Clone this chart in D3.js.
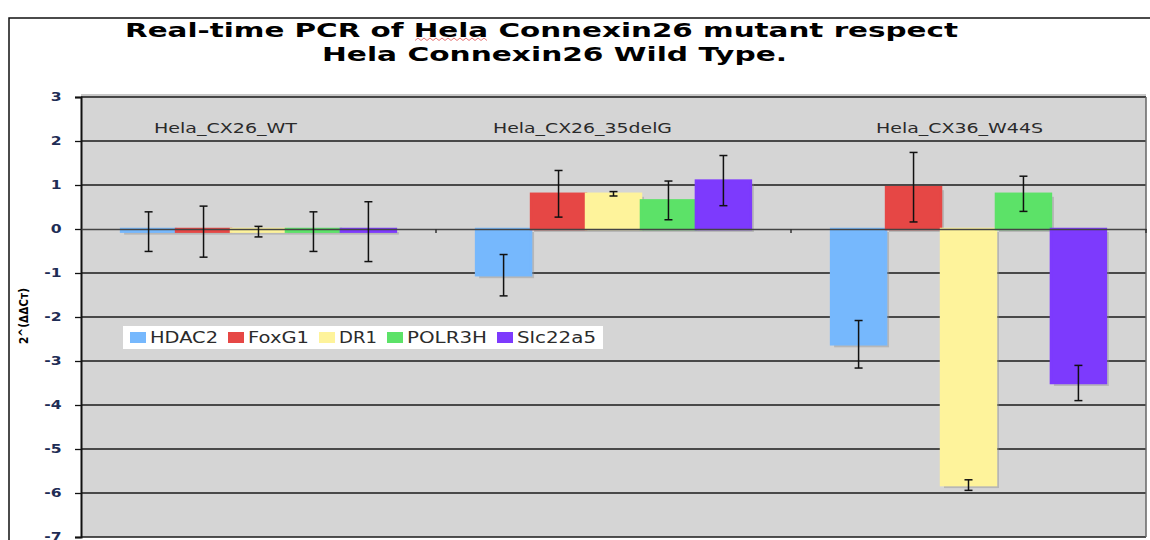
<!DOCTYPE html>
<html>
<head>
<meta charset="utf-8">
<style>
body { margin: 0; background: #fff; }
svg text { font-family: "DejaVu Sans", Verdana, sans-serif; }
</style>
</head>
<body>
<svg width="1150" height="540"></svg>
<script src="https://cdn.jsdelivr.net/npm/d3@7/dist/d3.min.js"></script>
<script>

// data
var groups = ["Hela_CX26_WT", "Hela_CX26_35delG", "Hela_CX36_W44S"];
var genes = ["HDAC2", "FoxG1", "DR1", "POLR3H", "Slc22a5"];
var colors = ["#76b8fd", "#e64745", "#fef39b", "#5ce268", "#7d3afd"];
var wtValues     = [-0.06, -0.06, -0.06, -0.06, -0.06];
var delGValues   = [-1.05, 0.80, 0.80, 0.65, 1.10];
var w44sValues   = [-2.62, 0.95, -5.82, 0.80, -3.50];
var wtErr        = [0.45, 0.58, 0.12, 0.45, 0.68];
var delGErr      = [0.47, 0.53, 0.05, 0.44, 0.57];
var w44sErr      = [0.54, 0.79, 0.12, 0.40, 0.40];
var yTicks = [3, 2, 1, 0, -1, -2, -3, -4, -5, -6, -7];

var values = [wtValues, delGValues, w44sValues];
var errors = [wtErr, delGErr, w44sErr];
var rows = [];
groups.forEach(function(g, i) {
  genes.forEach(function(k, j) {
    rows.push({group: g, gene: k, value: values[i][j], err: errors[i][j], color: colors[j]});
  });
});

var svg = d3.select("svg");
var plotLeft = 81, plotRight = 1146, plotTop = 97, plotBottom = 537;

var y = d3.scaleLinear().domain([-7, 3]).range([plotBottom, plotTop]);
var x0 = d3.scaleBand().domain(groups).range([plotLeft, plotRight]).padding(0);
var x1 = d3.scaleBand().domain(genes).range([0, x0.bandwidth()]).paddingInner(0).paddingOuter(0.73);
var color = d3.scaleOrdinal().domain(genes).range(colors);

// outer frame
svg.append("rect")
  .attr("x", 9).attr("y", 18).attr("width", 1160).attr("height", 560)
  .attr("fill", "none").attr("stroke", "#111").attr("stroke-width", 1.5);

// title
svg.append("text")
  .attr("x", 125).attr("y", 37)
  .attr("font-size", 20).attr("font-weight", "bold")
  .attr("textLength", 833).attr("lengthAdjust", "spacingAndGlyphs")
  .text("Real-time PCR of Hela Connexin26 mutant respect");
svg.append("text")
  .attr("x", 322).attr("y", 61)
  .attr("font-size", 20).attr("font-weight", "bold")
  .attr("textLength", 465).attr("lengthAdjust", "spacingAndGlyphs")
  .text("Hela Connexin26 Wild Type.");
// spell-check squiggle under "Hela"
var sq = d3.range(415, 489, 3).map(function(px, i) { return [px, i % 2 ? 38 : 40.5]; });
svg.append("path").attr("d", d3.line()(sq))
  .attr("fill", "none").attr("stroke", "#e05050").attr("stroke-width", 0.8);

// plot background
svg.append("rect")
  .attr("x", plotLeft).attr("y", plotTop - 3).attr("width", plotRight - plotLeft).attr("height", 3)
  .attr("fill", "#c8c8c8");
svg.append("rect")
  .attr("x", plotLeft).attr("y", plotTop).attr("width", plotRight - plotLeft).attr("height", plotBottom - plotTop)
  .attr("fill", "#d5d5d5");

// grid lines
svg.append("g").selectAll("line")
  .data(yTicks.filter(function(t) { return t !== 0; }))
  .enter().append("line")
  .attr("x1", plotLeft).attr("x2", plotRight)
  .attr("y1", function(d) { return y(d); }).attr("y2", function(d) { return y(d); })
  .attr("stroke", "#1a1a1a").attr("stroke-width", 1.3);

// y axis
var yAxis = svg.append("g")
  .attr("transform", "translate(" + plotLeft + ",0)")
  .call(d3.axisLeft(y).tickValues(yTicks).tickSize(6).tickPadding(13)
    .tickFormat(function(d) { return String(d); }));
yAxis.select(".domain").attr("stroke", "#111").attr("stroke-width", 2);
yAxis.selectAll(".tick line").attr("stroke", "#111").attr("stroke-width", 1.3);
yAxis.selectAll(".tick text")
  .attr("font-size", 12).attr("font-weight", "bold").attr("fill", "#1e2d55")
  .attr("font-family", "DejaVu Sans, sans-serif")
  .attr("transform", "scale(1.3,1)").attr("x", -15);

// y label
svg.append("text")
  .attr("transform", "translate(28,316) rotate(-90)")
  .attr("text-anchor", "middle")
  .attr("font-size", 12).attr("font-weight", "bold")
  .attr("textLength", 56).attr("lengthAdjust", "spacingAndGlyphs")
  .text("2^(ΔΔCт)");

// right border
svg.append("line")
  .attr("x1", plotRight).attr("x2", plotRight).attr("y1", plotTop).attr("y2", plotBottom)
  .attr("stroke", "#666").attr("stroke-width", 1.5);

// bars
var bars = svg.append("g").selectAll("g")
  .data(rows).enter().append("g");

bars.append("rect")
  .attr("x", function(d) { return x0(d.group) + x1(d.gene) + 3; })
  .attr("y", function(d) { return y(Math.max(0, d.value)) + 3; })
  .attr("width", x1.bandwidth())
  .attr("height", function(d) { return Math.abs(y(d.value) - y(0)); })
  .attr("fill", "#8a8a8a").attr("opacity", 0.4);

bars.append("rect")
  .attr("x", function(d) { return x0(d.group) + x1(d.gene); })
  .attr("y", function(d) { return y(Math.max(0, d.value)); })
  .attr("width", x1.bandwidth())
  .attr("height", function(d) { return Math.abs(y(d.value) - y(0)); })
  .attr("fill", function(d) { return color(d.gene); })
  .attr("stroke", function(d) { return color(d.gene); })
  .attr("stroke-width", 2.5);

// zero axis
var xAxis = svg.append("g")
  .attr("transform", "translate(0," + y(0) + ")")
  .call(d3.axisBottom(x0).tickSize(0).tickFormat(""));
xAxis.select(".domain").attr("stroke", "#444").attr("stroke-width", 1.5);
svg.append("g").selectAll("line")
  .data(groups.slice(1).concat(["end"]))
  .enter().append("line")
  .attr("x1", function(d) { return d === "end" ? plotRight : x0(d); })
  .attr("x2", function(d) { return d === "end" ? plotRight : x0(d); })
  .attr("y1", y(0)).attr("y2", y(0) + 4)
  .attr("stroke", "#333").attr("stroke-width", 1.5);

// error bars
var cap = 4;
var eb = svg.append("g").selectAll("g")
  .data(rows).enter().append("g")
  .attr("stroke", "#111").attr("stroke-width", 1.5);
eb.append("line")
  .attr("x1", function(d) { return x0(d.group) + x1(d.gene) + x1.bandwidth() / 2; })
  .attr("x2", function(d) { return x0(d.group) + x1(d.gene) + x1.bandwidth() / 2; })
  .attr("y1", function(d) { return y(d.value + d.err); })
  .attr("y2", function(d) { return y(d.value - d.err); });
[1, -1].forEach(function(s) {
  eb.append("line")
    .attr("x1", function(d) { return x0(d.group) + x1(d.gene) + x1.bandwidth() / 2 - cap; })
    .attr("x2", function(d) { return x0(d.group) + x1(d.gene) + x1.bandwidth() / 2 + cap; })
    .attr("y1", function(d) { return y(d.value + s * d.err); })
    .attr("y2", function(d) { return y(d.value + s * d.err); });
});

// group labels (text boxes sit a bit left of the group centre)
var labelShift = [-33, -31, -9];
var labelWidth = [143, 179, 167];
svg.append("g").selectAll("text")
  .data(groups).enter().append("text")
  .attr("x", function(d, i) { return x0(d) + x0.bandwidth() / 2 + labelShift[i] - labelWidth[i] / 2; })
  .attr("y", 133)
  .attr("font-size", 13.5).attr("fill", "#2a2a2a")
  .attr("textLength", function(d, i) { return labelWidth[i]; })
  .attr("lengthAdjust", "spacingAndGlyphs")
  .text(function(d) { return d; });

// legend
var legendWidths = [68, 61, 38, 80, 79];
var lg = svg.append("g");
lg.append("rect")
  .attr("x", 123).attr("y", 326).attr("width", 480).attr("height", 23)
  .attr("fill", "#ffffff");
var lx = 130;
genes.forEach(function(g, i) {
  lg.append("rect")
    .attr("x", lx).attr("y", 332).attr("width", 16).attr("height", 11)
    .attr("fill", color(g));
  lg.append("text")
    .attr("x", lx + 20).attr("y", 343)
    .attr("font-size", 15).attr("fill", "#2b2b2b")
    .attr("textLength", legendWidths[i]).attr("lengthAdjust", "spacingAndGlyphs")
    .text(g);
  lx += 20 + legendWidths[i] + 10;
});

</script>
</body>
</html>
